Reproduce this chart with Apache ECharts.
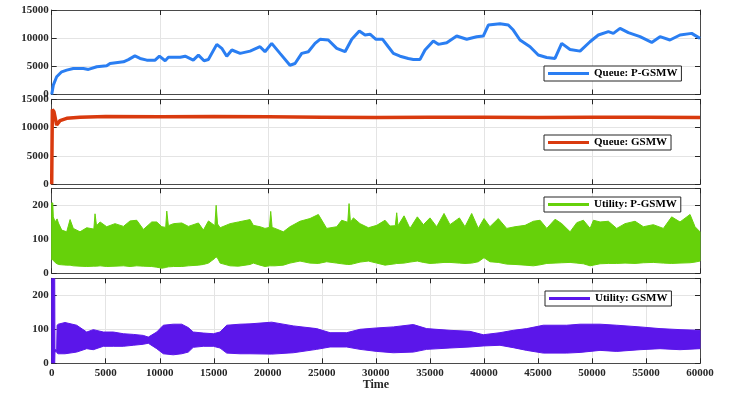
<!DOCTYPE html>
<html>
<head>
<meta charset="utf-8">
<script src="https://cdn.jsdelivr.net/npm/echarts@6/dist/echarts.min.js"></script>
<style>
html,body{margin:0;padding:0;background:#fff;}
#chart{width:747px;height:393px;}
</style>
</head>
<body>
<div id="chart"></div>
<script>
// ---------------- DATA ----------------
const xTicks = [0, 5000, 10000, 15000, 20000, 25000, 30000, 35000, 40000, 45000, 50000, 55000, 60000];
const seriesNames = ['Queue: P-GSMW', 'Queue: GSMW', 'Utility: P-GSMW', 'Utility: GSMW'];

// Panel 1: Queue P-GSMW
const time1 = [0,150,460,925,1390,2000,2930,3400,4170,5090,
  5400,6640,7100,7700,8180,8800,9570,9970,10500,10800,
  11900,12350,13100,13580,14100,14500,15280,15740,16200,16670,
  17440,18360,19280,19740,20360,21130,22050,22520,23140,23750,
  24370,24830,25600,26380,27150,27770,28470,29000,29460,30010,
  30630,31150,31620,32240,33000,33470,34090,34550,35320,35780,
  36560,37480,38410,39330,39940,40410,41490,42260,42720,43340,
  44270,45030,45810,46580,47200,47970,48900,49820,50590,51520,
  51980,52600,53370,54450,55530,56300,57220,58150,59230,60000];
const queueP = [0,1660,3140,4030,4330,4625,4625,4450,4920,5100,
  5500,5800,6200,6850,6400,6100,6100,6800,6000,6600,
  6600,6800,6100,7000,6000,6200,8900,8200,6800,7900,
  7300,7700,8480,7600,9070,7300,5200,5500,7300,7600,
  9070,9800,9670,8200,7600,9800,11270,10560,10700,9800,
  9800,8480,7300,6800,6400,6230,6230,7900,9500,8900,
  9200,10380,9800,10260,10380,12330,12550,12330,11440,9670,
  8480,7000,6580,6400,9070,8000,7700,9370,10560,11150,
  10850,11740,10970,10260,9250,10260,9670,10560,10850,9960];

// Panel 2: Queue GSMW
const time2 = [0,60,210,460,770,1390,2620,5000,10000,15000,20000,25000,30000,35000,40000,45000,50000,55000,60000];
const queueG = [0,13200,12800,10460,11230,11640,11850,11950,11900,11950,11900,11850,11800,11850,11850,11800,11850,11850,11800];

// Panel 3: Utility P-GSMW (lower / upper envelope of the dense oscillation)
const time3 = [0,100,150,310,500,620,930,1390,1700,2000,
  2620,3240,3900,4010,4150,4480,5090,5860,6640,7250,
  7870,8490,9260,9720,10190,10550,10650,10800,11270,12040,
  12650,13580,14040,14510,15100,15220,15350,15590,16510,17280,
  18360,18660,19280,19740,20150,20270,20400,20670,21440,22050,
  22980,23900,24680,25450,26380,26840,27400,27520,27650,27920,
  28540,29310,30080,30850,31310,31800,31930,32050,32610,33160,
  33840,34400,35010,35630,36310,36860,37730,38250,38870,39480,
  40010,40560,41330,42110,42880,43810,44580,45200,45820,46590,
  47210,47980,48600,49210,49830,50140,50750,51520,52290,53060,
  53990,54760,55680,56610,57380,58150,59080,59540,60000];
const utilPLow = [40,40,38,32,28,26,25,24,24,22,
  21,20,21,21,21,22,20,21,22,20,
  22,21,20,18,15,17,18,19,20,20,
  22,24,26,30,44,48,45,30,22,21,
  26,30,24,20,22,22,22,22,24,30,
  36,30,29,34,30,28,26,26,26,28,
  33,36,30,24,26,28,29,29,30,33,
  36,32,29,30,32,32,30,29,30,34,
  46,34,32,27,26,24,22,25,29,30,
  31,32,30,28,22,24,28,29,29,30,
  29,31,32,30,29,30,31,33,36];
const utilPHigh = [207,207,166,151,160,148,127,122,158,132,
  122,134,130,175,140,151,137,146,138,154,
  156,129,151,151,137,135,183,140,146,148,
  138,148,127,154,140,200,145,134,146,151,
  158,141,137,132,135,182,135,132,122,137,
  153,161,173,132,137,156,150,205,150,163,
  146,134,141,156,139,140,178,140,169,132,
  166,143,163,137,176,143,163,137,176,132,
  161,137,161,132,137,141,153,156,132,159,
  146,122,149,156,132,156,151,153,132,146,
  153,137,143,132,166,151,173,137,122];

// Panel 4: Utility GSMW (lower / upper envelope)
const time4 = [0,280,300,460,500,610,1230,2310,3240,3850,
  4780,5700,6630,7550,8480,8940,9720,10330,11250,12030,
  12640,13100,14030,14960,15580,16200,17430,18350,20360,22360,
  24520,25760,27300,28530,30080,31620,33470,34700,36860,38710,
  39940,41490,42720,43960,45500,47660,48900,50750,52290,54450,
  56300,58150,60000];
const utilGLow = [0,0,34,34,30,28,28,33,43,40,
  50,50,50,53,56,59,43,28,25,28,
  33,47,50,50,45,30,28,28,27,31,
  41,48,48,41,35,31,33,41,45,48,
  51,53,46,38,30,30,32,38,35,40,
  43,40,43];
const utilGHigh = [250,250,40,40,112,115,120,112,92,99,
  92,92,87,85,82,77,92,112,115,115,
  105,92,89,87,92,112,115,116,121,110,
  102,90,90,100,104,107,114,102,97,94,
  84,90,97,102,112,112,115,115,112,107,
  102,99,97];

// ---------------- STYLE ----------------
const FONT = '"Liberation Serif","Times New Roman",serif';
const FRAME = '#4a4a4a';
const GRIDC = '#e4e4e4';
const TXT = '#262626';
const COLORS = ['#2a7ef2', '#d93a0e', '#66d10a', '#5b16ea'];

const grids = [
  {left: 51.7, right: 47, top: 10, height: 84.5},
  {left: 51.7, right: 47, top: 99.3, height: 85},
  {left: 51.7, right: 47, top: 188.3, height: 85},
  {left: 51.7, right: 47, top: 278.3, height: 85}
];

const plain = v => String(v);
const xAxis = [];
const yAxis = [];
const yRanges = [[0, 15000, 5000], [0, 15000, 5000], [0, 250, 100], [0, 250, 100]];
for (let g = 0; g < 4; g++) {
  const interval = g === 3 ? 5000 : 10000;
  const last = g === 3;
  xAxis.push({
    type: 'value', gridIndex: g, min: 0, max: 60000, interval: interval, position: 'bottom',
    axisLine: {show: true, onZero: false, lineStyle: {color: FRAME, width: 1}},
    axisTick: {show: true, inside: true, length: 5, lineStyle: {color: TXT}},
    axisLabel: {show: last, margin: 4, formatter: plain, color: TXT, fontFamily: FONT, fontWeight: 'bold', fontSize: 11},
    splitLine: {show: true, lineStyle: {color: GRIDC, width: 1}},
    name: last ? 'Time' : '', nameLocation: 'middle', nameGap: 15,
    nameTextStyle: {color: TXT, fontFamily: FONT, fontWeight: 'bold', fontSize: 12}
  });
  xAxis.push({
    type: 'value', gridIndex: g, min: 0, max: 60000, interval: interval, position: 'top',
    axisLine: {show: true, onZero: false, lineStyle: {color: FRAME, width: 1}},
    axisTick: {show: true, inside: true, length: 5, lineStyle: {color: TXT}},
    axisLabel: {show: false}, splitLine: {show: false}
  });
  const r = yRanges[g];
  yAxis.push({
    type: 'value', gridIndex: g, min: r[0], max: r[1], interval: r[2], position: 'left',
    axisLine: {show: true, onZero: false, lineStyle: {color: FRAME, width: 1}},
    axisTick: {show: true, inside: true, length: 5, lineStyle: {color: TXT}},
    axisLabel: {show: true, margin: 3, formatter: plain, showMaxLabel: g < 2, color: TXT, fontFamily: FONT, fontWeight: 'bold', fontSize: 11},
    splitLine: {show: true, lineStyle: {color: GRIDC, width: 1}}
  });
  yAxis.push({
    type: 'value', gridIndex: g, min: r[0], max: r[1], interval: r[2], position: 'right',
    axisLine: {show: true, onZero: false, lineStyle: {color: FRAME, width: 1}},
    axisTick: {show: true, inside: true, length: 5, lineStyle: {color: TXT}},
    axisLabel: {show: false}, splitLine: {show: false}
  });
}

function pairs(t, v) { return t.map((x, i) => [x, v[i]]); }

function bandSeries(name, axisIdx, t, lo, hi, color) {
  return {
    name: name, type: 'custom', xAxisIndex: axisIdx, yAxisIndex: axisIdx,
    color: color, itemStyle: {color: color},
    data: t.map((x, i) => [x, lo[i], hi[i]]),
    encode: {x: 0, y: [1, 2]},
    clip: true,
    renderItem: function (params, api) {
      if (params.dataIndex !== 0) return null;
      const top = [], bot = [];
      for (let i = 0; i < t.length; i++) {
        top.push(api.coord([t[i], hi[i]]));
        bot.push(api.coord([t[i], lo[i]]));
      }
      const pts = top.concat(bot.reverse());
      return {type: 'polygon', shape: {points: pts}, style: {fill: color, stroke: color, lineWidth: 1}};
    }
  };
}

const series = [
  {
    name: seriesNames[0], type: 'line', xAxisIndex: 0, yAxisIndex: 0,
    data: pairs(time1, queueP), showSymbol: false, color: COLORS[0],
    lineStyle: {width: 3, color: COLORS[0]}
  },
  {
    name: seriesNames[1], type: 'line', xAxisIndex: 2, yAxisIndex: 2,
    data: pairs(time2, queueG), showSymbol: false, color: COLORS[1],
    lineStyle: {width: 3.5, color: COLORS[1]}
  },
  bandSeries(seriesNames[2], 4, time3, utilPLow, utilPHigh, COLORS[2]),
  bandSeries(seriesNames[3], 6, time4, utilGLow, utilGHigh, COLORS[3])
];

const legendPos = [[544, 66], [544, 135], [544, 197], [545, 291]];
const legend = legendPos.map((p, i) => ({
  data: [seriesNames[i]], left: p[0], top: p[1], orient: 'horizontal',
  selectedMode: false, icon: 'rect', itemWidth: 41, itemHeight: 3,
  padding: [2, 4, 2, 4], borderColor: '#262626', borderWidth: 1, backgroundColor: '#fff',
  textStyle: {color: '#000', fontFamily: FONT, fontWeight: 'bold', fontSize: 11}
}));

const chart = echarts.init(document.getElementById('chart'), null, {renderer: 'canvas'});
chart.setOption({
  animation: false,
  backgroundColor: '#fff',
  grid: grids,
  xAxis: xAxis,
  yAxis: yAxis,
  legend: legend,
  series: series
});
</script>
</body>
</html>
